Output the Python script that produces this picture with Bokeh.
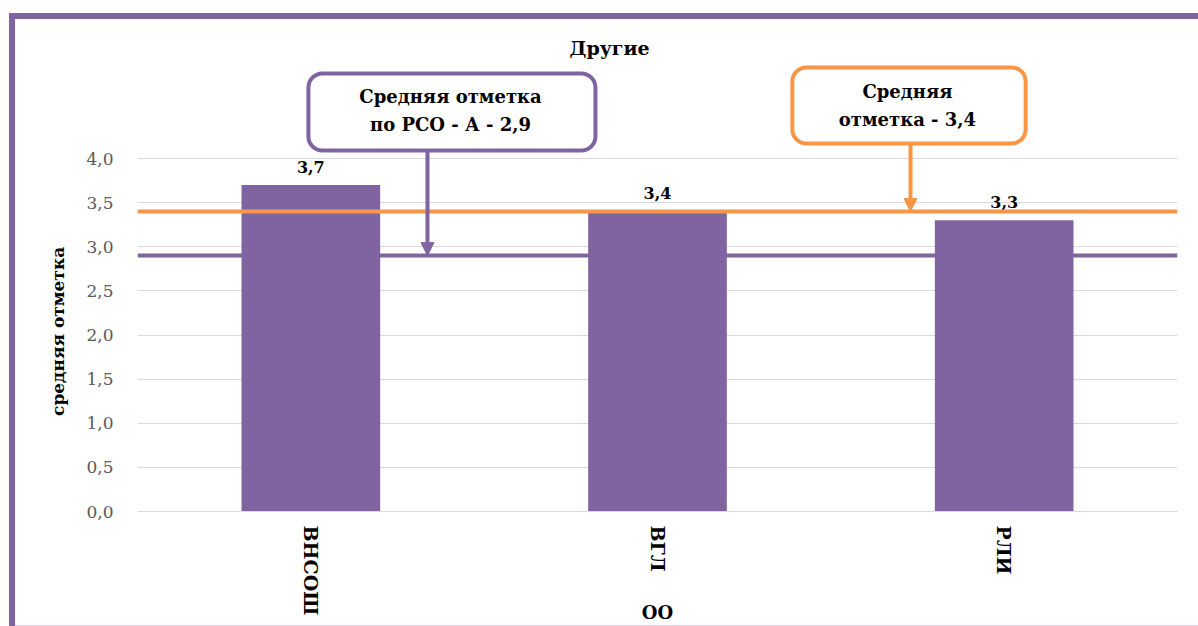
from bokeh.plotting import figure
from bokeh.models import (Range1d, FactorRange, FixedTicker, Span, BoxAnnotation,
                          Label, Arrow, NormalHead, ColumnDataSource)
from bokeh.core.properties import value
from bokeh.embed import file_html
from bokeh.resources import INLINE

# ---------------- data ----------------
categories = ["ВНСОШ", "ВГЛ", "РЛИ"]
mean_marks = [3.7, 3.4, 3.3]
overall_mean = 3.4          # "Средняя отметка"
region_mean = 2.9           # "Средняя отметка по РСО - А"
y_ticks = [0.0, 0.5, 1.0, 1.5, 2.0, 2.5, 3.0, 3.5, 4.0]
y_tick_labels = ["0,0", "0,5", "1,0", "1,5", "2,0", "2,5", "3,0", "3,5", "4,0"]
title_text = "Другие"
y_title = "средняя отметка"
x_title = "ОО"


def fmt(v):
    return f"{v:.1f}".replace(".", ",")


value_labels = [fmt(v) for v in mean_marks]

# ---------------- styles ----------------
PURPLE = "#8064A2"
ORANGE = "#F79646"
GRID = "#D9D9D9"
FONT = "DejaVu Serif"

p = figure(width=1198, height=626, output_backend="svg", toolbar_location=None,
           x_range=FactorRange(*categories, range_padding=0),
           y_range=Range1d(0, 5.088),
           min_border_left=137, min_border_right=21,
           min_border_top=62, min_border_bottom=115)
p.outline_line_color = None
p.background_fill_color = "white"
p.border_fill_color = "white"
p.border_fill_alpha = 0
# outer purple frame of the chart area (left and top edges visible), thin bottom edge
p.styles = {"box-shadow": f"inset 9px 13px 0 0 #ffffff, inset 15px 19px 0 0 {PURPLE}, "
                          f"inset 0 -1px 0 0 #D3CBE0",
            "background-color": "white"}

# title
p.title.text = title_text
p.title.text_font = FONT
p.title.text_font_size = "19px"
p.title.text_font_style = "bold"
p.title.text_color = "black"
p.title.align = "left"
p.title.offset = 432
p.title.standoff = 8

# y axis
p.yaxis.ticker = FixedTicker(ticks=y_ticks)
p.yaxis.bounds = (y_ticks[0], y_ticks[-1])
p.yaxis.major_label_overrides = dict(zip(y_ticks, y_tick_labels))
p.yaxis.axis_line_color = None
p.yaxis.major_tick_line_color = None
p.yaxis.minor_tick_line_color = None
p.yaxis.major_tick_out = 0
p.yaxis.major_tick_in = 0
p.yaxis.major_label_standoff = 24
p.yaxis.major_label_text_font = FONT
p.yaxis.major_label_text_font_size = "17px"
p.yaxis.major_label_text_color = "#595959"
# trailing no-break spaces keep the title centred on the 0..4 part of the axis
p.yaxis.axis_label = y_title + "\u00a0" * 15
p.yaxis.axis_label_standoff = 15
p.yaxis.axis_label_text_font = FONT
p.yaxis.axis_label_text_font_size = "17px"
p.yaxis.axis_label_text_font_style = "bold"
p.yaxis.axis_label_text_color = "black"
p.ygrid.grid_line_color = GRID
p.ygrid.grid_line_width = 1

# x axis
p.xgrid.grid_line_color = None
p.xaxis.axis_line_color = GRID
p.xaxis.major_tick_line_color = None
p.xaxis.minor_tick_line_color = None
p.xaxis.major_tick_out = 0
p.xaxis.major_tick_in = 0
p.xaxis.major_label_orientation = "vertical"
p.xaxis.major_label_standoff = 14
p.xaxis.major_label_text_font = FONT
p.xaxis.major_label_text_font_size = "19px"
p.xaxis.major_label_text_font_style = "bold"
p.xaxis.major_label_text_color = "black"
p.xaxis.axis_label = x_title
p.xaxis.axis_label_standoff = -16
p.xaxis.axis_label_text_font = FONT
p.xaxis.axis_label_text_font_size = "18px"
p.xaxis.axis_label_text_font_style = "bold"
p.xaxis.axis_label_text_color = "black"

# bars
src = ColumnDataSource(dict(cat=categories, val=mean_marks, lab=value_labels))
p.vbar(x="cat", top="val", width=0.4, source=src, fill_color=PURPLE, line_color=None)
p.text(x="cat", y="val", text="lab", source=src, text_align="center",
       text_baseline="bottom", y_offset=-12, text_font=value(FONT),
       text_font_size="16px", text_font_style="bold", text_color="black")

# mean lines
p.add_layout(Span(location=overall_mean, dimension="width", line_color=ORANGE, line_width=4))
p.add_layout(Span(location=region_mean, dimension="width", line_color=PURPLE, line_width=4))

# callouts
p.add_layout(Arrow(end=NormalHead(size=13, fill_color=PURPLE, line_color=PURPLE),
                   x_start=0.8365, y_start=4.09, x_end=0.8365, y_end=region_mean,
                   line_color=PURPLE, line_width=4))
p.add_layout(Arrow(end=NormalHead(size=13, fill_color=ORANGE, line_color=ORANGE),
                   x_start=2.2298, y_start=4.17, x_end=2.2298, y_end=overall_mean,
                   line_color=ORANGE, line_width=4))
p.add_layout(BoxAnnotation(left=0.493, right=1.321, top=4.963, bottom=4.091,
                           fill_color="white", fill_alpha=1, line_color=PURPLE,
                           line_alpha=1, line_width=4, border_radius=14))
p.add_layout(BoxAnnotation(left=1.889, right=2.562, top=5.031, bottom=4.170,
                           fill_color="white", fill_alpha=1, line_color=ORANGE,
                           line_alpha=1, line_width=4, border_radius=14))
p.add_layout(Label(x=0.903, y=4.544, text=f"Средняя отметка\nпо РСО - А - {fmt(region_mean)}",
                   text_align="center", text_baseline="middle", text_line_height=1.3,
                   text_font=FONT, text_font_size="18px", text_font_style="bold",
                   text_color="black"))
p.add_layout(Label(x=2.221, y=4.601, text=f"Средняя\nотметка - {fmt(overall_mean)}",
                   text_align="center", text_baseline="middle", text_line_height=1.3,
                   text_font=FONT, text_font_size="18px", text_font_style="bold",
                   text_color="black"))

open("out.html", "w").write(file_html(p, INLINE))
